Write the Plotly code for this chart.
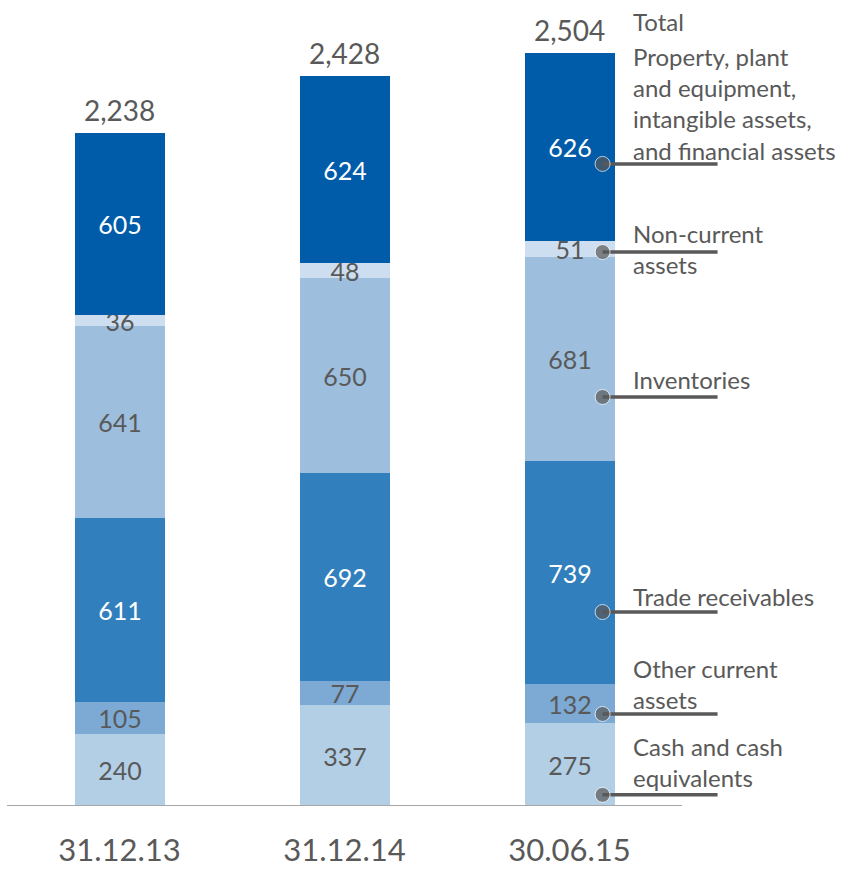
import plotly.graph_objects as go

# Balance-sheet asset structure (EUR m)
categories = ["31.12.13", "31.12.14", "30.06.15"]
segments = [
    "Cash and cash<br>equivalents",
    "Other current<br>assets",
    "Trade receivables",
    "Inventories",
    "Non-current<br>assets",
    "Property, plant<br>and equipment,<br>intangible assets,<br>and financial assets",
]
cash = [240, 337, 275]
other_current = [105, 77, 132]
trade_receivables = [611, 692, 739]
inventories = [641, 650, 681]
non_current = [36, 48, 51]
ppe = [605, 624, 626]
totals = [2238, 2428, 2504]

series = [cash, other_current, trade_receivables, inventories, non_current, ppe]

# styling
colors = ["#b3cfe6", "#7caad4", "#327fbd", "#9dbfdd", "#ccdeef", "#005ca9"]
label_colors = ["#595959", "#595959", "#ffffff", "#595959", "#595959", "#ffffff"]
GREY = "#595959"
FONT = "Lato"

# leader lines for the side labels (value units, next to the last bar)
leader_y = [37, 306, 645, 1360, 1842, 2135]
label_y = [145, 406, 695, 1417, 1852, 2335]
LEADER_X0, LEADER_X1, LABEL_X = 2.147, 2.658, 2.272

x_pos = list(range(len(categories)))

fig = go.Figure()
for vals, name, col, tcol in zip(series, segments, colors, label_colors):
    fig.add_trace(go.Bar(
        x=x_pos, y=vals, name=name,
        marker=dict(color=col, line=dict(width=0)),
        width=0.4,
        text=[f"{v:,}" for v in vals],
        textposition="inside", insidetextanchor="middle",
        textangle=0, constraintext="none",
        textfont=dict(family=FONT, size=25, color=tcol),
        hoverinfo="skip",
    ))

# leader lines with dots
for ly in leader_y:
    fig.add_trace(go.Scatter(
        x=[LEADER_X0, LEADER_X1], y=[ly, ly], mode="lines+markers",
        line=dict(color=GREY, width=3.5),
        marker=dict(size=[15, 0], color=GREY),
        showlegend=False, hoverinfo="skip", cliponaxis=False,
    ))

annotations = []
for xp, t in zip(x_pos, totals):
    annotations.append(dict(
        x=xp, y=t, xref="x", yref="y", text=f"{t:,}", showarrow=False,
        yanchor="bottom", yshift=4,
        font=dict(family=FONT, size=28, color=GREY),
    ))
for name, ty in zip(segments, label_y):
    annotations.append(dict(
        x=LABEL_X, y=ty, xref="x", yref="y", text=name, showarrow=False,
        xanchor="left", yanchor="middle", align="left",
        font=dict(family=FONT, size=24, color=GREY),
    ))
annotations.append(dict(
    x=LABEL_X, y=2607, xref="x", yref="y", text="Total", showarrow=False,
    xanchor="left", yanchor="middle", align="left",
    font=dict(family=FONT, size=24, color=GREY),
))

# baseline under the bars
shapes = [dict(type="line", xref="x", yref="y", x0=-0.5, x1=2.5, y0=0, y1=0,
               line=dict(color="#a6a6a6", width=2))]

fig.update_layout(
    template="none",
    width=842, height=870,
    margin=dict(l=0, r=0, t=0, b=0, pad=0),
    barmode="stack", bargap=0,
    plot_bgcolor="white", paper_bgcolor="white",
    showlegend=False,
    annotations=annotations, shapes=shapes,
    xaxis=dict(
        range=[-0.5 - 7 / 225, 2.5 + 160 / 225], domain=[0, 1],
        tickvals=x_pos, ticktext=categories,
        tickfont=dict(family=FONT, size=31, color=GREY),
        showgrid=False, zeroline=False, showline=False,
        ticks="", ticklabelstandoff=23, automargin=False,
    ),
    yaxis=dict(
        range=[0, 2680], domain=[64 / 870, 1],
        visible=False, showgrid=False, zeroline=False, automargin=False,
    ),
)

fig.write_html("out.html")
